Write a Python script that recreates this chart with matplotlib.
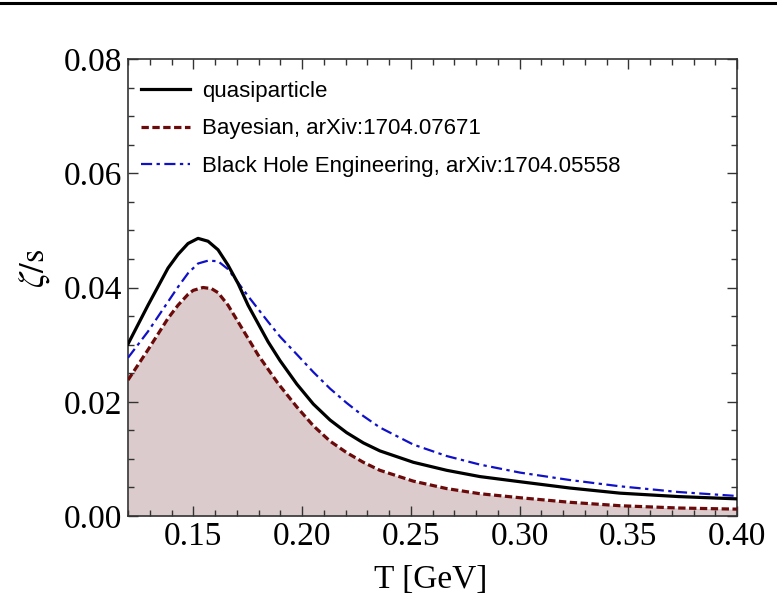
import matplotlib
matplotlib.use("Agg")
import matplotlib.pyplot as plt
from matplotlib.lines import Line2D
from matplotlib.ticker import MultipleLocator, FormatStrFormatter

# ---- data ----
T_qp = [0.1200, 0.1292, 0.1384, 0.1430, 0.1476, 0.1522, 0.1568, 0.1614, 0.1660, 0.1706,
        0.1752, 0.1844, 0.1899, 0.1976, 0.2052, 0.2129, 0.2205, 0.2282, 0.2358, 0.2512,
        0.2665, 0.2818, 0.3002, 0.3231, 0.3462, 0.3731, 0.4000]
zeta_qp = [0.0301, 0.0369, 0.0434, 0.0458, 0.0477, 0.0486, 0.0481, 0.0466, 0.0439, 0.0407,
           0.0369, 0.0305, 0.0272, 0.0231, 0.0196, 0.0168, 0.0146, 0.0128, 0.0114, 0.0094,
           0.0080, 0.0069, 0.0060, 0.0049, 0.0040, 0.0034, 0.0030]

T_bay = [0.1200, 0.1292, 0.1384, 0.1430, 0.1476, 0.1500, 0.1545, 0.1584, 0.1614, 0.1660,
         0.1706, 0.1798, 0.1890, 0.1976, 0.2052, 0.2129, 0.2205, 0.2282, 0.2358, 0.2512,
         0.2665, 0.2818, 0.3002, 0.3231, 0.3462, 0.3731, 0.4000]
zeta_bay = [0.0238, 0.0291, 0.0346, 0.0369, 0.0388, 0.0395, 0.0400, 0.0398, 0.0391, 0.0369,
            0.0340, 0.0282, 0.0232, 0.0191, 0.0158, 0.0131, 0.0111, 0.0094, 0.0080, 0.0061,
            0.0048, 0.0039, 0.0032, 0.0024, 0.0018, 0.0014, 0.0012]

T_bhe = [0.1200, 0.1292, 0.1384, 0.1430, 0.1476, 0.1522, 0.1568, 0.1614, 0.1660, 0.1752,
         0.1844, 0.1899, 0.1976, 0.2052, 0.2129, 0.2205, 0.2282, 0.2358, 0.2512, 0.2665,
         0.2818, 0.3002, 0.3231, 0.3462, 0.3731, 0.4000]
zeta_bhe = [0.0277, 0.0323, 0.0375, 0.0401, 0.0425, 0.0442, 0.0447, 0.0446, 0.0432, 0.0385,
            0.0340, 0.0314, 0.0283, 0.0252, 0.0223, 0.0198, 0.0175, 0.0155, 0.0125, 0.0105,
            0.0090, 0.0076, 0.0063, 0.0052, 0.0042, 0.0035]

labels = ["quasiparticle", "Bayesian, arXiv:1704.07671",
          "Black Hole Engineering, arXiv:1704.05558"]

plt.rcParams["mathtext.fontset"] = "stix"

fig = plt.figure(figsize=(7.77, 6.00), dpi=100)
ax = fig.add_axes([128/777, 84/600, 609/777, 457/600])

serif = "Liberation Serif"
sans = "Liberation Sans"

ax.fill_between(T_bay, 0, zeta_bay, color="#dccbcc", lw=0, zorder=1)
l1, = ax.plot(T_qp, zeta_qp, color="black", lw=2.3, zorder=4)
l2, = ax.plot(T_bay, zeta_bay, color="#6b0a0a", lw=2.3, ls=(0, (2.3, 1.1)), zorder=3)
l3, = ax.plot(T_bhe, zeta_bhe, color="#1010c8", lw=1.6, ls=(0, (5, 2, 1.5, 2)), zorder=3)

ax.set_xlim(0.12, 0.40)
ax.set_ylim(0.0, 0.08)
ax.xaxis.set_major_locator(MultipleLocator(0.05))
ax.xaxis.set_minor_locator(MultipleLocator(0.01))
ax.yaxis.set_major_locator(MultipleLocator(0.02))
ax.yaxis.set_minor_locator(MultipleLocator(0.005))
ax.xaxis.set_major_formatter(FormatStrFormatter("%.2f"))
ax.yaxis.set_major_formatter(FormatStrFormatter("%.2f"))
ax.tick_params(which="both", direction="in", top=True, right=True, color="#333333", width=1.0)
ax.tick_params(which="major", length=7, labelsize=24, pad=4)
ax.tick_params(which="minor", length=4)
for lab in ax.get_xticklabels() + ax.get_yticklabels():
    lab.set_fontfamily(serif)
for s in ax.spines.values():
    s.set_color("#333333")
    s.set_linewidth(1.2)

fig.text(431/777, 1 - 580/600, "T [GeV]", ha="center", va="center",
         fontsize=24, family=serif)
fig.text(35/777, 1 - 268/600, r"$\zeta/\mathrm{s}$", ha="center", va="center",
         fontsize=25, rotation=90)

leg = ax.legend([l1, l2, l3], labels, loc="upper left", frameon=False,
                prop={"family": sans, "size": 16}, handlelength=2.2,
                handletextpad=0.55, labelspacing=0.74,
                borderpad=0.0, borderaxespad=0.0,
                bbox_to_anchor=(13/609, (516 - 81)/457))

fig.add_artist(Line2D([0, 1], [1 - 3/600, 1 - 3/600], color="black", lw=2.2,
                      transform=fig.transFigure))

fig.savefig("out.png", dpi=100)
